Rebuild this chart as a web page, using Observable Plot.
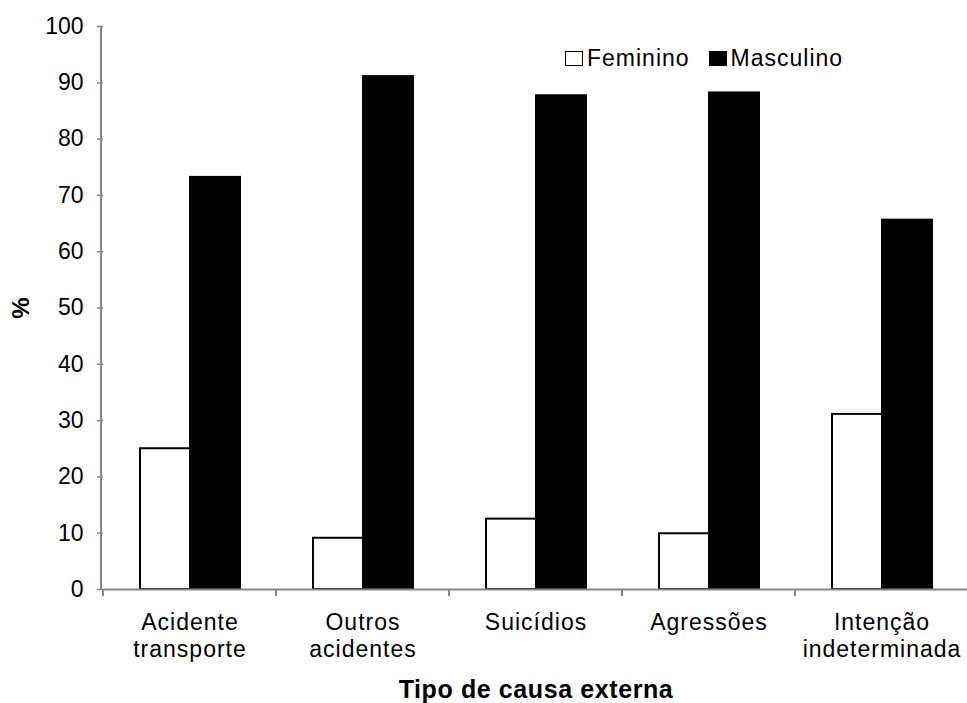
<!DOCTYPE html>
<html>
<head>
<meta charset="utf-8">
<script src="https://cdn.jsdelivr.net/npm/d3@7"></script>
<script src="https://cdn.jsdelivr.net/npm/@observablehq/plot@0.6"></script>
<style>
  body { margin: 0; background: #fff; }
  #wrap { position: relative; width: 967px; height: 703px; font-family: "Liberation Sans", Arial, Helvetica, sans-serif; color: #000; }
  #wrap svg { display: block; }
  g[aria-label="y-axis tick label"] { font-size: 23px; }
  g[aria-label="fx-axis tick label"] { letter-spacing: 1px; font-size: 23px; }
  g[aria-label="fx-axis label"] { font-weight: bold; font-size: 25px; letter-spacing: 0.6px; }
  g[aria-label="y-axis label"] { font-weight: bold; font-size: 24px; }
  #legend { position: absolute; left: 565px; top: 47px; display: flex; align-items: center; font-size: 23px; line-height: 23px; }
  #legend .item { display: flex; align-items: center; margin-right: 19px; }
  #legend .sw { width: 18px; height: 15px; box-sizing: border-box; border: 1.5px solid #000; }
  #legend .lab { margin-left: 4px; letter-spacing: 1px; }
</style>
</head>
<body>
<div id="wrap"></div>
<script>
// ---- data ----
const categories = ["Acidente transporte", "Outros acidentes", "Suicídios", "Agressões", "Intenção indeterminada"];
const tickLabels = ["Acidente\ntransporte", "Outros\nacidentes", "Suicídios", "Agressões", "Intenção\nindeterminada"];
const series = ["Feminino", "Masculino"];
const seriesColors = ["#ffffff", "#000000"];
const feminino = [25.0, 9.1, 12.5, 9.9, 31.1];
const masculino = [73.2, 91.1, 87.7, 88.2, 65.6];
const yTicks = [0, 10, 20, 30, 40, 50, 60, 70, 80, 90, 100];
const xTitle = "Tipo de causa externa";
const yTitle = "%";

const data = categories.flatMap((c, i) => [
  {cat: c, sexo: series[0], v: feminino[i]},
  {cat: c, sexo: series[1], v: masculino[i]}
]);

const gray = "#868686";

const plot = Plot.plot({
  width: 967,
  height: 703,
  marginTop: 26,
  marginBottom: 114,
  marginLeft: 101,
  marginRight: -3,
  style: {fontFamily: "'Liberation Sans', Arial, Helvetica, sans-serif", fontSize: "22px", color: "#000", background: "#fff", overflow: "visible"},
  fx: {domain: categories, padding: 0},
  x: {domain: series, paddingInner: 0, paddingOuter: 0.71, axis: null},
  y: {domain: [0, 100]},
  color: {domain: series, range: seriesColors},
  marks: [
    Plot.barY(data, {fx: "cat", x: "sexo", y: "v", fill: "sexo", stroke: "#000", strokeWidth: 2}),
    Plot.ruleY([0], {stroke: gray, strokeWidth: 2}),
    Plot.axisY({ticks: yTicks, tickSize: 6, tickPadding: 14, stroke: gray, strokeWidth: 1.5, fill: "#000",
                label: yTitle, labelArrow: false, labelAnchor: "center", labelOffset: 92}),
    Plot.axisFx({anchor: "bottom", tickSize: 0, tickPadding: 22, lineHeight: 1.15, fill: "#000",
                 tickFormat: c => tickLabels[categories.indexOf(c)],
                 label: xTitle, labelArrow: false, labelAnchor: "center", labelOffset: 108})
  ]
});

// y-axis domain line and category boundary ticks, from the plot's own scales
const fx = plot.scale("fx");
const y = plot.scale("y");
const svg = d3.select(plot);
const g = svg.append("g").attr("stroke", gray).attr("stroke-width", 2);
const x0 = fx.range[0];
g.append("line").attr("x1", x0).attr("x2", x0).attr("y1", y.apply(100)).attr("y2", y.apply(0) + 1);
const bounds = categories.map(c => fx.apply(c)).concat([fx.range[1]]);
g.selectAll("line.b").data(bounds).join("line").attr("class", "b")
  .attr("x1", d => d).attr("x2", d => d)
  .attr("y1", y.apply(0)).attr("y2", y.apply(0) + 7);

const wrap = document.getElementById("wrap");
wrap.appendChild(plot);

// legend (inside the chart area, top right)
const legend = d3.select(wrap).append("div").attr("id", "legend");
const items = legend.selectAll("div.item").data(series).join("div").attr("class", "item");
items.append("div").attr("class", "sw").style("background", (d, i) => seriesColors[i]);
items.append("span").attr("class", "lab").text(d => d);
</script>
</body>
</html>
